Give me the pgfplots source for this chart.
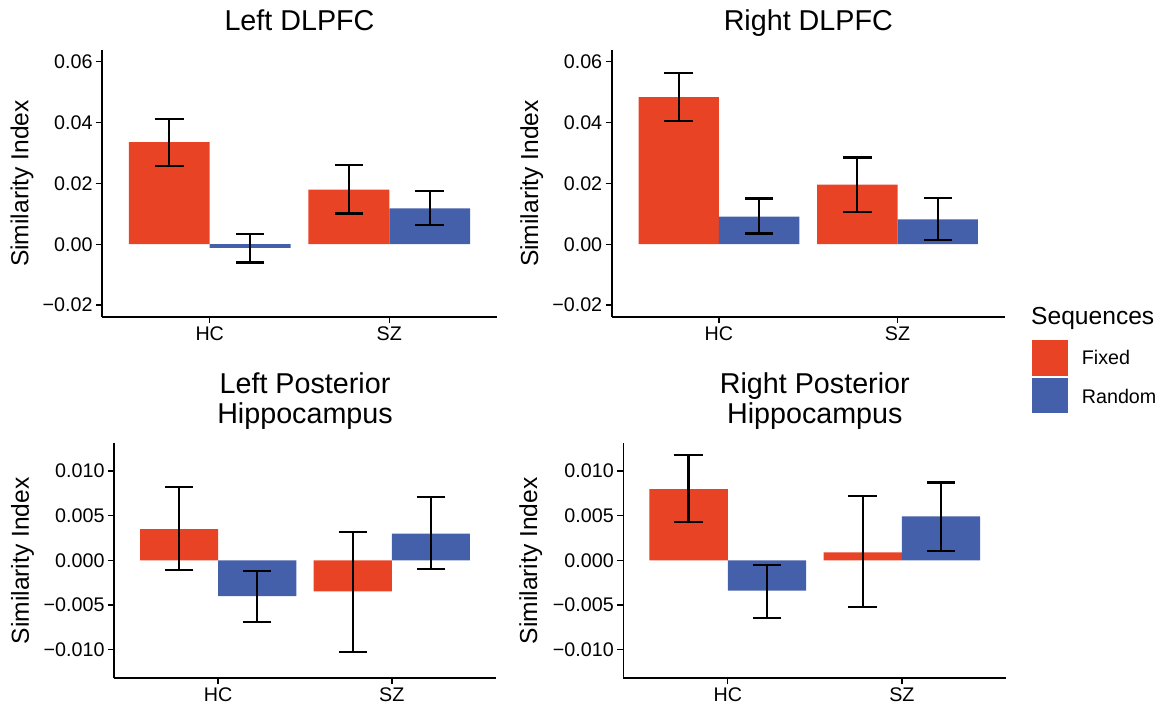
\documentclass[border=0pt]{standalone}
\usepackage{pgfplots}
\pgfplotsset{compat=1.18}
\usepackage{fontspec}
\setmainfont{Liberation Sans}
\definecolor{fixedc}{RGB}{233,67,37}
\definecolor{randc}{RGB}{69,96,171}
\pgfplotsset{
  panel/.style={
    scale only axis,
    anchor=south west,
    axis x line*=bottom,
    axis y line*=left,
    axis line style={line width=1.6pt, black},
    tick align=outside,
    major tick length=6pt,
    tick style={line width=1.4pt, black},
    xmin=0.4, xmax=2.6,
    xtick={1,2}, xticklabels={HC,SZ},
    scaled y ticks=false,
    ticklabel style={font=\fontsize{19.7}{23}\selectfont},
    ylabel={Similarity Index},
    ylabel style={font=\fontsize{24.6}{28}\selectfont, at={(axis description cs:0,0.5)}, anchor=center},
    clip=false,
  },
  fixbar/.style={ybar, bar width=0.45, bar shift=0pt, fill=fixedc, draw=none,
    error bars/.cd, y dir=both, y explicit,
    error bar style={line width=2.2pt, black},
    error mark options={rotate=90, black, line width=2.2pt, mark size=14.2pt}},
  ranbar/.style={ybar, bar width=0.45, bar shift=0pt, fill=randc, draw=none,
    error bars/.cd, y dir=both, y explicit,
    error bar style={line width=2.2pt, black},
    error mark options={rotate=90, black, line width=2.2pt, mark size=14.2pt}},
}
\begin{document}
\begin{tikzpicture}[x=1pt,y=1pt]
\path[use as bounding box] (0,0) rectangle (1173,711);

% Panel 1: Left DLPFC
\begin{axis}[panel, at={(102pt,394pt)}, width=395pt, height=267pt,
  ymin=-0.0239, ymax=0.0638,
  ytick={-0.02,0,0.02,0.04,0.06},
  yticklabels={−0.02,0.00,0.02,0.04,0.06},
  ylabel style={yshift=80pt}]
\addplot[fixbar] table[x=x,y=y,y error plus=ep,y error minus=em] {
x y ep em
0.775 0.0335 0.0077 0.0077
1.775 0.0179 0.0082 0.0078
};
\addplot[ranbar] table[x=x,y=y,y error plus=ep,y error minus=em] {
x y ep em
1.225 -0.0012 0.0045 0.0048
2.225 0.0118 0.0058 0.0056
};
\end{axis}

% Panel 2: Right DLPFC
\begin{axis}[panel, at={(611.7pt,394pt)}, width=393pt, height=267pt,
  ymin=-0.0239, ymax=0.0638,
  ytick={-0.02,0,0.02,0.04,0.06},
  yticklabels={−0.02,0.00,0.02,0.04,0.06},
  ylabel style={yshift=80pt}]
\addplot[fixbar] table[x=x,y=y,y error plus=ep,y error minus=em] {
x y ep em
0.775 0.0483 0.0079 0.0077
1.775 0.0196 0.0089 0.0089
};
\addplot[ranbar] table[x=x,y=y,y error plus=ep,y error minus=em] {
x y ep em
1.225 0.0091 0.0059 0.0056
2.225 0.0082 0.0070 0.0068
};
\end{axis}

% Panel 3: Left Posterior Hippocampus
\begin{axis}[panel, at={(114pt,32.7pt)}, width=382pt, height=235pt,
  ymin=-0.0132, ymax=0.0131,
  ytick={-0.01,-0.005,0,0.005,0.01},
  yticklabels={−0.010,−0.005,0.000,0.005,0.010},
  ylabel style={yshift=91.5pt}]
\addplot[fixbar] table[x=x,y=y,y error plus=ep,y error minus=em] {
x y ep em
0.775 0.0035 0.00473 0.00462
1.775 -0.00347 0.0066 0.00683
};
\addplot[ranbar] table[x=x,y=y,y error plus=ep,y error minus=em] {
x y ep em
1.225 -0.0040 0.0028 0.0029
2.225 0.00298 0.00407 0.00398
};
\end{axis}

% Panel 4: Right Posterior Hippocampus
\begin{axis}[panel, at={(623.3pt,32.7pt)}, width=383pt, height=235pt,
  ymin=-0.0132, ymax=0.0131,
  ytick={-0.01,-0.005,0,0.005,0.01},
  yticklabels={−0.010,−0.005,0.000,0.005,0.010},
  ylabel style={yshift=92.5pt}]
\addplot[fixbar] table[x=x,y=y,y error plus=ep,y error minus=em] {
x y ep em
0.775 0.00797 0.00381 0.00372
1.775 0.0009 0.00626 0.00616
};
\addplot[ranbar] table[x=x,y=y,y error plus=ep,y error minus=em] {
x y ep em
1.225 -0.0034 0.00291 0.00302
2.225 0.00492 0.0038 0.00385
};
\end{axis}

% Titles
\begingroup
\fontsize{28.7}{32}\selectfont
\node[anchor=base, inner sep=0pt] at (299.5,680) {Left DLPFC};
\node[anchor=base, inner sep=0pt] at (808.3,680) {Right DLPFC};
\node[anchor=base, inner sep=0pt] at (305,317.7) {Left Posterior};
\node[anchor=base, inner sep=0pt] at (305,287.7) {Hippocampus};
\node[anchor=base, inner sep=0pt] at (814.8,317.7) {Right Posterior};
\node[anchor=base, inner sep=0pt] at (814.8,287.7) {Hippocampus};
\endgroup

% Legend
\node[anchor=base west, inner sep=0pt, font=\fontsize{24.6}{28}\selectfont] at (1031,386) {Sequences};
\fill[fixedc] (1031.7,335.3) rectangle (1067.7,371);
\fill[randc] (1031.7,298) rectangle (1067.7,333);
\node[anchor=base west, inner sep=0pt, font=\fontsize{19.7}{23}\selectfont] at (1081.7,346) {Fixed};
\node[anchor=base west, inner sep=0pt, font=\fontsize{19.7}{23}\selectfont] at (1081.7,307.7) {Random};
\end{tikzpicture}
\end{document}
